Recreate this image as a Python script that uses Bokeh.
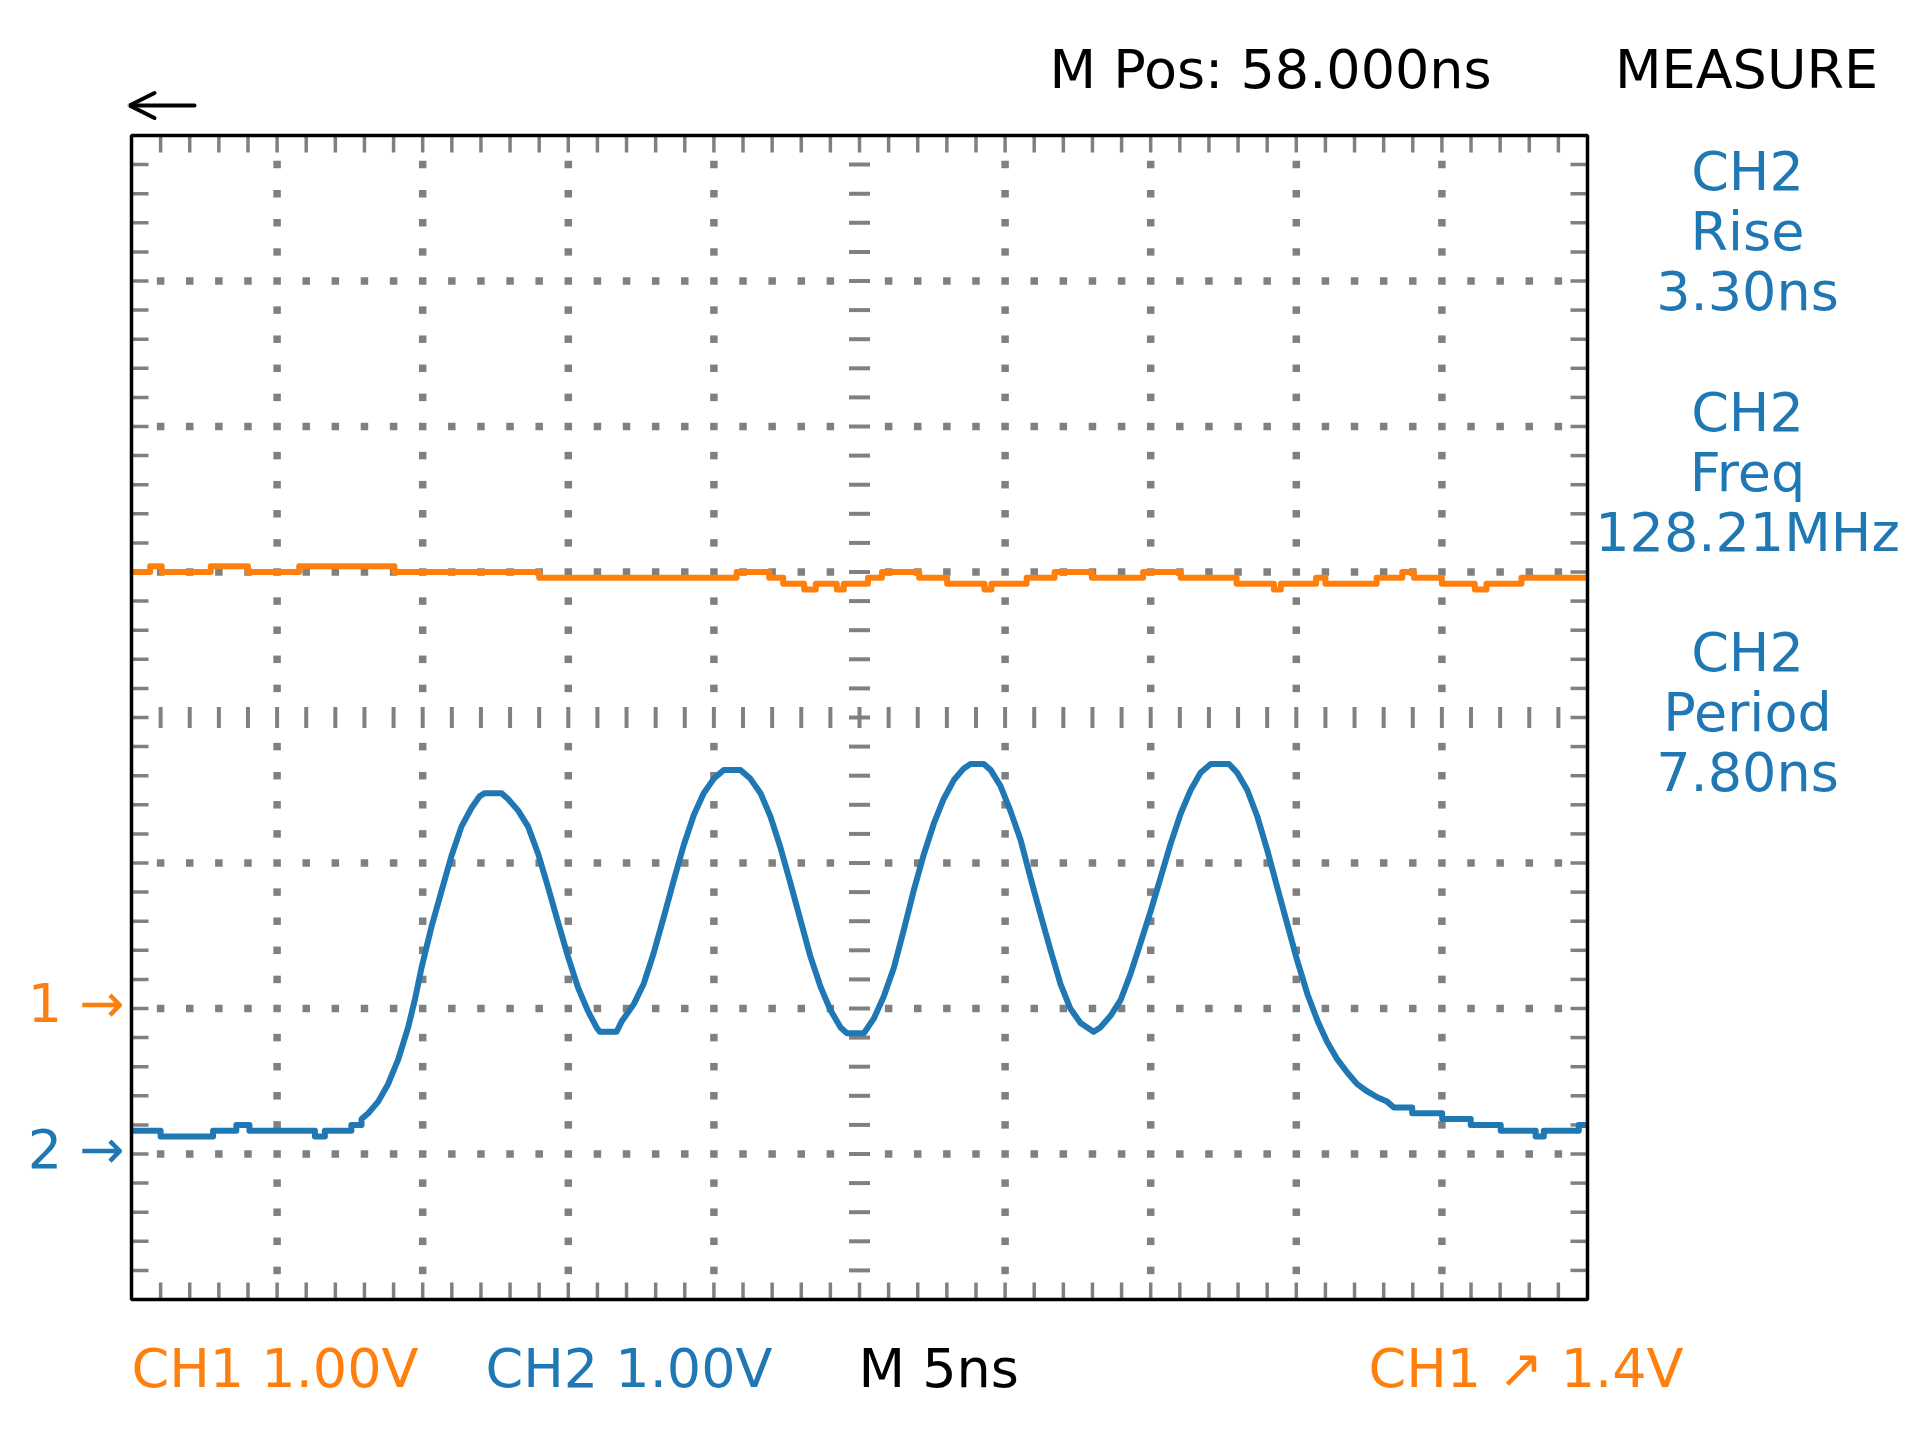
import numpy as np
from bokeh.plotting import figure
from bokeh.models import Label, Arrow, OpenHead, Range1d
from bokeh.embed import file_html
from bokeh.resources import INLINE

# ---------------- data ----------------
# Time base: 5 ns/div, 10 divisions -> -25 .. 25 ns ; vertical 1 V/div, 8 divisions
CH1_POS = -2.0   # CH1 ground marker (divisions)
CH2_POS = -3.0   # CH2 ground marker (divisions)

# CH1 (orange) staircase: level held from each time to the next
ch1_t = [-25.0, -24.36, -23.96, -22.28, -21.0, -19.24, -15.97, -11.0, -4.22, -3.1,
         -2.62, -1.9, -1.5, -0.78, -0.54, 0.29, 0.77, 2.05, 3.01, 4.29,
         4.53, 5.74, 6.7, 7.98, 9.74, 11.03, 12.95, 14.23, 14.47, 15.68,
         16.0, 17.76, 18.64, 19.04, 20.0, 21.13, 21.53, 22.73, 25.0]
ch1_v = [3.0, 3.04, 3.0, 3.04, 3.0, 3.04, 3.0, 2.96, 3.0, 2.96,
         2.92, 2.88, 2.92, 2.88, 2.92, 2.96, 3.0, 2.96, 2.92, 2.88,
         2.92, 2.96, 3.0, 2.96, 3.0, 2.96, 2.92, 2.88, 2.92, 2.96,
         2.92, 2.96, 3.0, 2.96, 2.92, 2.88, 2.92, 2.96, 2.96]

# CH2 (blue) trace vertices
ch2_t = [-25.0, -24.0, -24.0, -22.2, -22.2, -21.4, -21.4, -20.95, -20.95, -18.7,
         -18.7, -18.36, -18.36, -17.45, -17.45, -17.1, -17.1, -16.87, -16.53, -16.19,
         -15.84, -15.5, -15.27, -15.04, -14.7, -14.35, -14.01, -13.67, -13.32, -13.04,
         -12.87, -12.29, -12.07, -11.72, -11.38, -11.03, -10.69, -10.35, -10.0, -9.66,
         -9.32, -9.03, -8.92, -8.34, -8.17, -7.75, -7.41, -7.07, -6.72, -6.38,
         -6.04, -5.69, -5.35, -5.0, -4.66, -4.09, -3.75, -3.4, -3.06, -2.72,
         -2.37, -2.03, -1.69, -1.34, -1.0, -0.65, -0.43, 0.15, 0.49, 0.83,
         1.18, 1.52, 1.86, 2.21, 2.55, 2.89, 3.24, 3.58, 3.81, 4.27,
         4.5, 4.84, 5.18, 5.53, 5.87, 6.21, 6.56, 6.9, 7.24, 7.59,
         7.82, 8.04, 8.27, 8.62, 8.97, 9.31, 9.65, 10.0, 10.34, 10.68,
         11.03, 11.37, 11.71, 12.06, 12.69, 12.97, 13.32, 13.66, 14.0, 14.35,
         14.69, 15.03, 15.38, 15.72, 16.06, 16.41, 16.75, 17.09, 17.44, 17.78,
         18.12, 18.35, 18.98, 18.98, 20.01, 20.01, 20.99, 20.99, 22.02, 22.02,
         23.22, 23.22, 23.5, 23.5, 24.7, 24.7, 25.0]
ch2_v = [0.16, 0.16, 0.12, 0.12, 0.16, 0.16, 0.20, 0.20, 0.16, 0.16,
         0.12, 0.12, 0.16, 0.16, 0.20, 0.20, 0.24, 0.28, 0.36, 0.48,
         0.65, 0.87, 1.06, 1.28, 1.56, 1.81, 2.05, 2.25, 2.38, 2.46,
         2.48, 2.48, 2.44, 2.36, 2.25, 2.06, 1.83, 1.59, 1.35, 1.14,
         0.98, 0.87, 0.84, 0.84, 0.91, 1.03, 1.17, 1.38, 1.63, 1.88,
         2.12, 2.33, 2.48, 2.58, 2.64, 2.64, 2.58, 2.48, 2.32, 2.11,
         1.86, 1.61, 1.36, 1.15, 0.99, 0.87, 0.83, 0.83, 0.93, 1.08,
         1.28, 1.54, 1.81, 2.06, 2.27, 2.44, 2.57, 2.65, 2.68, 2.68,
         2.64, 2.53, 2.36, 2.16, 1.90, 1.65, 1.40, 1.17, 1.00, 0.90,
         0.87, 0.84, 0.87, 0.95, 1.06, 1.24, 1.45, 1.67, 1.90, 2.13,
         2.34, 2.50, 2.62, 2.68, 2.68, 2.62, 2.50, 2.32, 2.09, 1.83,
         1.58, 1.33, 1.10, 0.92, 0.77, 0.65, 0.56, 0.48, 0.43, 0.39,
         0.36, 0.32, 0.32, 0.28, 0.28, 0.24, 0.24, 0.20, 0.20, 0.16,
         0.16, 0.12, 0.12, 0.16, 0.16, 0.20, 0.20]

top_texts = ["M Pos: 58.000ns", "MEASURE"]
measure_blocks = [["CH2", "Rise", "3.30ns"],
                  ["CH2", "Freq", "128.21MHz"],
                  ["CH2", "Period", "7.80ns"]]
bottom_texts = ["CH1 1.00V", "CH2 1.00V", "M 5ns", "CH1 \u2197 1.4V"]

ORANGE = "#ff7f0e"
BLUE = "#1f77b4"
GRAY = "#808080"
FONT = "DejaVu Sans"
FS = "54px"
TEXT_LIFT = 19.5   # px, baseline correction

# ---------------- layout ----------------
W, H = 1920, 1441
LB, RB, TB, BB = 131, 333, 135, 142          # graticule box inside the canvas
FW, FH = W - LB - RB, H - TB - BB
PX_NS = FW / 50.0
PX_DIV = FH / 8.0


def tx(px):
    return (px - LB) / PX_NS - 25.0


def ty(py):
    return 4.0 - (py - TB) / PX_DIV


p = figure(width=W, height=H, x_range=Range1d(tx(0), tx(W)), y_range=Range1d(ty(H), ty(0)),
           x_axis_type=None, y_axis_type=None, output_backend="svg",
           toolbar_location=None, min_border=0)
p.grid.visible = False
p.outline_line_color = None
p.background_fill_color = "white"
p.border_fill_color = "white"

# dotted graticule
minor_t = [k for k in range(-24, 25)]
minor_d = [round(k * 0.2, 1) for k in range(-19, 20)]
major_t = [-20, -15, -10, -5, 5, 10, 15, 20]
major_d = [-3, -2, -1, 1, 2, 3]
dx, dy = [], []
for t in major_t:
    for d in minor_d:
        if d != 0:
            dx.append(t); dy.append(d)
for d in major_d:
    for t in minor_t:
        if t != 0 and t not in major_t:
            dx.append(t); dy.append(d)
p.scatter(dx, dy, marker="square", size=7.5, fill_color=GRAY, line_color=None)

# border ticks
tl_ns = 17 / PX_NS
tl_dv = 17 / PX_DIV
p.segment(x0=minor_t, y0=[4] * len(minor_t), x1=minor_t, y1=[4 - tl_dv] * len(minor_t),
          line_color=GRAY, line_width=3.5)
p.segment(x0=minor_t, y0=[-4] * len(minor_t), x1=minor_t, y1=[-4 + tl_dv] * len(minor_t),
          line_color=GRAY, line_width=3.5)
p.segment(x0=[-25] * len(minor_d), y0=minor_d, x1=[-25 + tl_ns] * len(minor_d), y1=minor_d,
          line_color=GRAY, line_width=3.5)
p.segment(x0=[25] * len(minor_d), y0=minor_d, x1=[25 - tl_ns] * len(minor_d), y1=minor_d,
          line_color=GRAY, line_width=3.5)

# centre cross ticks
hc_ns = 10.5 / PX_NS
hc_dv = 10.5 / PX_DIV
p.segment(x0=minor_t, y0=[-hc_dv] * len(minor_t), x1=minor_t, y1=[hc_dv] * len(minor_t),
          line_color=GRAY, line_width=4)
p.segment(x0=[-hc_ns] * len(minor_d), y0=minor_d, x1=[hc_ns] * len(minor_d), y1=minor_d,
          line_color=GRAY, line_width=4)

# traces
p.step(ch1_t, list(np.array(ch1_v) + CH1_POS), mode="after", line_color=ORANGE,
       line_width=6, line_join="round")
p.line(ch2_t, list(np.array(ch2_v) + CH2_POS), line_color=BLUE, line_width=6,
       line_join="round")

# graticule frame
p.quad(left=[-25], right=[25], bottom=[-4], top=[4], fill_color=None,
       line_color="black", line_width=3.5)


def lab(text, x, y, color="black", align="left", xo=0, yo=0):
    p.add_layout(Label(x=x, y=y, text=text, text_color=color, text_font=FONT,
                       text_font_size=FS, text_align=align, text_baseline="alphabetic",
                       x_offset=xo, y_offset=yo + TEXT_LIFT))


# top
lab(top_texts[0], tx(1049), ty(88))
lab(top_texts[1], tx(1746), ty(88), align="center")
p.add_layout(Arrow(end=OpenHead(size=25, line_width=4, line_color="black", line_cap="round"),
                   x_start=tx(194), y_start=ty(105), x_end=tx(129), y_end=ty(105),
                   line_width=4, line_color="black", line_cap="round"))

# measurement column
block_base = [190.7, 431, 671]
for b, block in zip(block_base, measure_blocks):
    for i, txt in enumerate(block):
        lab(txt, tx(1747), ty(b + 60 * i), color=BLUE, align="center")

# channel markers
lab("1 \u2192", -25, CH1_POS, color=ORANGE, align="right", xo=-7, yo=-14.5)
lab("2 \u2192", -25, CH2_POS, color=BLUE, align="right", xo=-7, yo=-14.5)

# bottom status line
bx = [131, 485, 858, 1368]
bc = [ORANGE, BLUE, "black", ORANGE]
for txt, x, c in zip(bottom_texts, bx, bc):
    lab(txt, tx(x), ty(1387), color=c)

open("out.html", "w").write(file_html(p, INLINE))
